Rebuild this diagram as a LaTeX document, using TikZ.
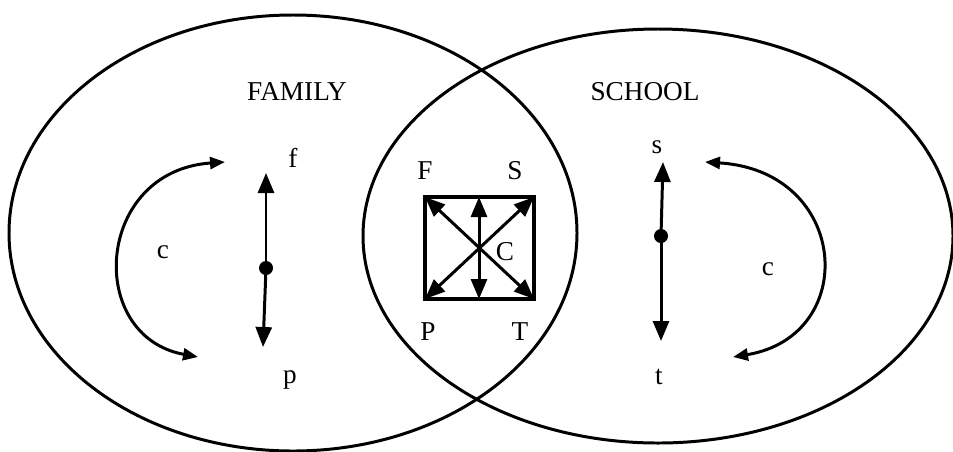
\documentclass[tikz,border=0pt]{standalone}
\usepackage{fontspec}
\setmainfont{Liberation Serif}
\usetikzlibrary{arrows.meta}
\begin{document}
\begin{tikzpicture}[line width=1.7pt,
    lbl/.style={font=\fontsize{15.5}{18}\selectfont, inner sep=0pt},
    big/.style={-{Triangle[length=0.4cm,width=0.32cm]}},
    bigboth/.style={{Triangle[length=0.4cm,width=0.32cm]}-{Triangle[length=0.4cm,width=0.32cm]}},
    arcboth/.style={{Triangle[length=0.3cm,width=0.24cm]}-{Triangle[length=0.3cm,width=0.24cm]}}]
    \useasboundingbox (0,0) rectangle (19.06,9.02);
    % 二つの楕円
    \draw (5.86,4.36) ellipse (5.68 and 4.36);
    \draw (13.16,4.30) ellipse (5.90 and 4.14);
    % 見出し
    \node[lbl] (family) at (5.94,7.18) {FAMILY};
    \node[lbl] (school) at (12.90,7.18) {SCHOOL};
    % 左側：f と p
    \node[lbl] (f) at (5.86,5.86) {f};
    \node[lbl] (p) at (5.80,1.42) {p};
    \node[lbl] (cL) at (3.26,3.98) {c};
    \coordinate (fTip) at (5.32,5.56);
    \coordinate (pTip) at (5.26,2.08);
    \node[circle, fill, inner sep=0pt, minimum size=0.28cm] (dotL) at (5.32,3.66) {};
    \draw[big] (dotL.center) -- (fTip);
    \draw[big] (dotL.center) -- (pTip);
    \coordinate (cLtop) at (4.50,5.78);
    \coordinate (cLbot) at (3.96,1.88);
    \draw[arcboth] (cLtop) .. controls (1.9,5.6) and (1.7,2.3) .. (cLbot);
    % 右側：s と t
    \node[lbl] (s) at (13.14,6.08) {s};
    \node[lbl] (t) at (13.18,1.48) {t};
    \node[lbl] (cR) at (15.36,3.64) {c};
    \coordinate (sTip) at (13.26,5.78);
    \coordinate (tTip) at (13.22,2.20);
    \node[circle, fill, inner sep=0pt, minimum size=0.28cm] (dotR) at (13.22,4.30) {};
    \draw[big] (dotR.center) -- (sTip);
    \draw[big] (dotR.center) -- (tTip);
    \coordinate (cRtop) at (14.10,5.78);
    \coordinate (cRbot) at (14.66,1.88);
    \draw[arcboth] (cRtop) .. controls (17.0,5.6) and (17.2,2.3) .. (cRbot);
    % 中央の四角形
    \coordinate (sqF) at (8.50,5.08);
    \coordinate (sqS) at (10.68,5.08);
    \coordinate (sqP) at (8.50,3.04);
    \coordinate (sqT) at (10.68,3.04);
    \coordinate (sqTop) at (9.58,5.08);
    \coordinate (sqBot) at (9.58,3.04);
    \draw[line width=1.9pt] (sqF) -- (sqS) -- (sqT) -- (sqP) -- cycle;
    \draw[bigboth] (sqF) -- (sqT);
    \draw[bigboth] (sqS) -- (sqP);
    \draw[bigboth] (sqTop) -- (sqBot);
    \node[lbl] (F) at (8.50,5.60) {F};
    \node[lbl] (S) at (10.30,5.60) {S};
    \node[lbl] (P) at (8.56,2.38) {P};
    \node[lbl] (T) at (10.40,2.38) {T};
    \node[lbl] (C) at (10.10,3.98) {C};
  \end{tikzpicture}
\end{document}
